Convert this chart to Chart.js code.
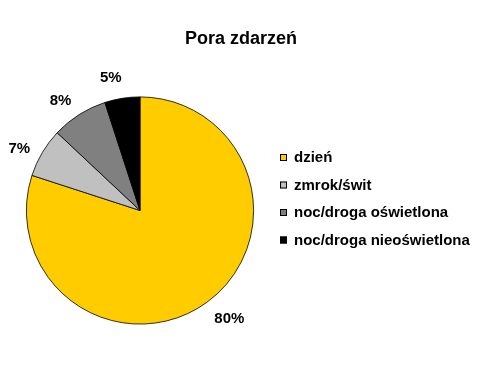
<!DOCTYPE html>
<html>
<head>
<meta charset="utf-8">
<script src="https://cdn.jsdelivr.net/npm/chart.js@4"></script>
<style>
  html, body { margin: 0; padding: 0; background: #fff; }
  #wrap { width: 480px; height: 365px; }
</style>
</head>
<body>
<div id="wrap"><canvas id="pieChart" width="480" height="365"></canvas></div>
<script>
const chartTitle = 'Pora zdarzeń';
const categories = ['dzień', 'zmrok/świt', 'noc/droga oświetlona', 'noc/droga nieoświetlona'];
const shares = [80, 7, 8, 5];
const sliceColors = ['#FFCC00', '#C0C0C0', '#808080', '#000000'];

// title, outside percent labels and the legend on the right
const decorations = {
    id: 'decorations',
    afterDraw(chart) {
        const ctx = chart.ctx;
        ctx.save();
        ctx.fillStyle = '#000';
        ctx.textAlign = 'center';
        ctx.textBaseline = 'middle';
        ctx.font = 'bold 18px "Liberation Sans", Arial, sans-serif';
        ctx.fillText(chartTitle, 241, 39);

        const arcs = chart.getDatasetMeta(0).data;
        ctx.font = 'bold 15px "Liberation Sans", Arial, sans-serif';
        arcs.forEach((arc, i) => {
            const mid = (arc.startAngle + arc.endAngle) / 2 - 0.06;
            const r = arc.outerRadius + (i === 0 ? 27 : 22);
            ctx.fillText(shares[i] + '%', arc.x + Math.cos(mid) * r, arc.y + Math.sin(mid) * r);
        });

        ctx.textAlign = 'left';
        ctx.font = 'bold 15px "Liberation Sans", Arial, sans-serif';
        categories.forEach((name, i) => {
            const y = 158 + i * 27.5;
            ctx.fillStyle = sliceColors[i];
            ctx.fillRect(280, y - 4, 7, 7);
            ctx.strokeStyle = '#000';
            ctx.lineWidth = 1;
            ctx.strokeRect(280.5, y - 3.5, 6, 6);
            ctx.fillStyle = '#000';
            ctx.fillText(name, 294, y);
        });
        ctx.restore();
    }
};

new Chart(document.getElementById('pieChart'), {
    type: 'pie',
    data: {
        labels: categories,
        datasets: [{
            data: shares,
            backgroundColor: sliceColors,
            borderColor: '#000',
            borderWidth: 0.8
        }]
    },
    options: {
        responsive: false,
        animation: false,
        layout: { padding: { left: 26, top: 96, right: 226, bottom: 40 } },
        plugins: {
            legend: { display: false },
            title: { display: false },
            tooltip: { enabled: false }
        }
    },
    plugins: [decorations]
});
</script>
</body>
</html>
